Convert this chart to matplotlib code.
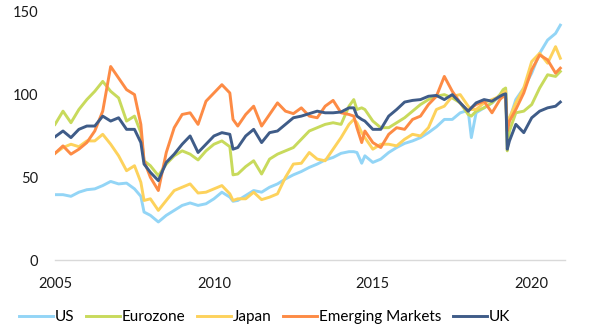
import matplotlib
matplotlib.use("Agg")
import matplotlib.pyplot as plt

# ── Data (index levels) ──────────────────────────────────────────────────────
dates = [2005.00, 2005.25, 2005.50, 2005.75,
         2006.00, 2006.25, 2006.50, 2006.75,
         2007.00, 2007.25, 2007.50, 2007.70, 2007.80,
         2008.00, 2008.25, 2008.50, 2008.75,
         2009.00, 2009.25, 2009.50, 2009.75,
         2010.00, 2010.25, 2010.50, 2010.60, 2010.75,
         2011.00, 2011.25, 2011.50, 2011.75,
         2012.00, 2012.25, 2012.50, 2012.75,
         2013.00, 2013.25, 2013.50, 2013.75,
         2014.00, 2014.25, 2014.40, 2014.50, 2014.65, 2014.75,
         2015.00, 2015.25, 2015.50, 2015.75,
         2016.00, 2016.25, 2016.50, 2016.75,
         2017.00, 2017.25, 2017.50, 2017.75,
         2018.00, 2018.10, 2018.25, 2018.50, 2018.75,
         2019.00, 2019.10, 2019.18, 2019.23, 2019.30, 2019.50, 2019.75,
         2020.00, 2020.25, 2020.50, 2020.75, 2020.90]

us = [39.5, 39.5, 38.5, 41,
      42.5, 43, 45, 47.5,
      46, 46.5, 43, 38.5, 29,
      27, 23, 27, 30,
      33, 34.5, 33, 34,
      37, 41, 38, 35.5, 36,
      39, 42, 41, 44,
      46, 49, 51.5, 53.5,
      56, 58, 60.5, 62,
      64.5, 65.5, 65.5, 65, 58.5, 63,
      59, 61, 65, 68,
      70.5, 72, 74, 77,
      80.5, 85, 85, 89,
      90.5, 74, 89, 92, 95,
      99, 101, 103, 78, 85, 97, 104,
      113, 125, 133, 137, 142]

eurozone = [82, 90, 83, 91,
            97, 102, 108, 102,
            98, 84, 87, 77, 60,
            57, 51, 58, 63,
            66, 64, 60.5, 66,
            70, 72, 68.5, 51.5, 52,
            56.5, 60, 52, 61,
            64, 66, 68, 73,
            78, 80, 82, 83,
            82, 93, 97, 91, 92, 91,
            84, 80, 80, 83,
            86, 90, 94, 97,
            99, 100, 98, 95,
            88, 87, 90, 92, 95,
            100, 103, 104, 66, 78, 89, 90,
            94, 104, 112, 111, 114]

japan = [64.5, 68, 70, 68.5,
         72, 72, 76, 70,
         63, 54, 57, 47, 36,
         37, 30, 36, 42,
         44, 46, 40.5, 41,
         43, 45, 40, 36, 37,
         37, 41, 36.5, 38,
         40, 50, 58, 58.5,
         65, 61, 60, 67,
         74, 82, 85, 83, 77, 74,
         67, 70, 70, 69,
         73, 76, 75, 80,
         91, 93, 99, 100,
         93, 91, 91, 95, 97,
         99, 101, 102, 80, 86, 95, 104,
         120, 125, 119, 129, 122]

emerging = [64.5, 69, 64, 67,
            71, 78, 90, 117,
            110, 103, 100, 82, 60,
            50, 42, 65, 80,
            88, 89, 82, 96,
            101, 106, 101, 85, 81,
            88, 93, 81, 88,
            95, 90, 88.5, 92,
            87, 86, 93, 96.5,
            89, 88, 87, 80, 71, 78,
            71, 68, 76, 80,
            79, 85, 87, 94,
            99, 111, 102, 95,
            90, 92, 94, 96, 89,
            97, 99, 98, 78, 84, 91, 101,
            115, 124, 121, 113, 116]

uk = [74.5, 78, 74, 79,
      81, 81, 87, 84,
      86, 79, 79, 71, 58,
      53, 48, 59, 64,
      70, 75, 65, 70,
      75, 77, 76, 67, 68,
      75, 79, 71, 77,
      78, 82, 86, 87,
      88.5, 90, 89, 89,
      89.5, 92, 92, 87, 85, 84,
      79, 79, 87, 91,
      95.5, 96.5, 97, 99,
      99.5, 97, 100, 95,
      90, 92, 95, 97, 96,
      99, 100, 100.5, 67, 72, 82, 77,
      86, 90, 92, 93, 95.5]

series = [("US", us, "#93d5f6"),
          ("Eurozone", eurozone, "#c8da5c"),
          ("Japan", japan, "#fdd25c"),
          ("Emerging Markets", emerging, "#fd8b45"),
          ("UK", uk, "#3f5c88")]

xticks = [2005, 2010, 2015, 2020]
yticks = [0, 50, 100, 150]

# ── Figure ────────────────────────────────────────────────────────────────────
plt.rcParams["font.family"] = ["Lato", "DejaVu Sans"]
fig = plt.figure(figsize=(5.92, 3.31), dpi=100)
ax = fig.add_axes([0.093, 0.2145, 0.861, 0.7495])

for name, vals, col in series:
    ax.plot(dates, vals, color=col, linewidth=2.1, label=name,
            solid_joinstyle="round")

ax.set_xlim(2005, 2021.04)
ax.set_ylim(0, 150)
ax.set_xticks(xticks)
ax.set_xticklabels([str(t) for t in xticks])
ax.set_yticks(yticks)
ax.tick_params(axis="both", length=0, labelsize=10.5, colors="#1a1a1a")
ax.tick_params(axis="y", pad=12)
ax.tick_params(axis="x", pad=12)

for side in ["top", "right", "left"]:
    ax.spines[side].set_visible(False)
ax.spines["bottom"].set_color("#d9d9d9")
ax.spines["bottom"].set_linewidth(1.0)

fig.legend(loc="center", bbox_to_anchor=(0.447, 0.042), ncol=5,
           frameon=False, fontsize=11, handlelength=2.2,
           handletextpad=0.15, columnspacing=0.75, borderaxespad=0)

fig.savefig("out.png", dpi=100)
